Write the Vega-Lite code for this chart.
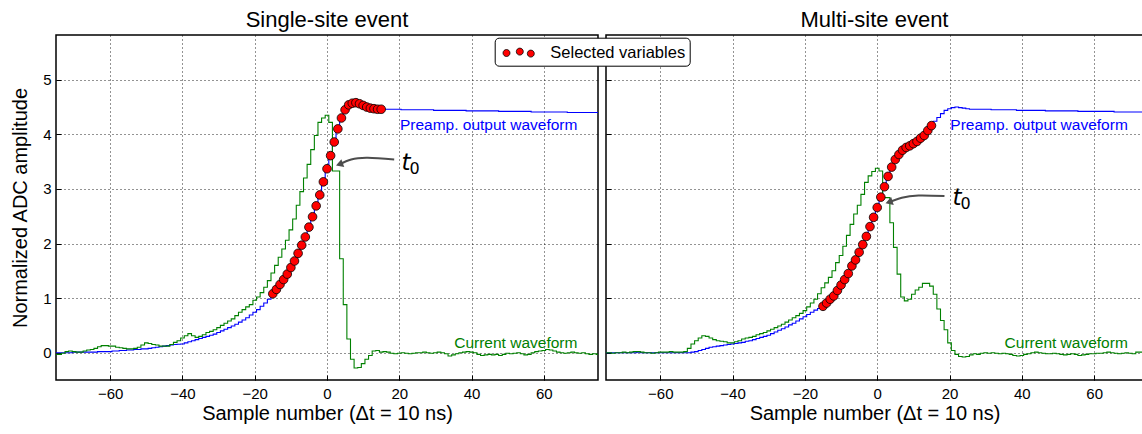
{
  "$schema": "https://vega.github.io/schema/vega-lite/v6.json",
  "background": "white",
  "padding": {"left": 9, "top": 8, "right": 0, "bottom": 0},
  "bounds": "flush",
  "spacing": 8,
  "config": {
    "font": "Liberation Sans",
    "view": {"stroke": "#000", "strokeWidth": 1.5},
    "axis": {
      "grid": true, "gridColor": "#000", "gridDash": [1, 3], "gridOpacity": 0.85, "gridWidth": 1,
      "domain": false, "tickColor": "#000", "tickSize": -5, "tickWidth": 1, "format": "d",
      "labelFont": "Liberation Sans", "labelFontSize": 15, "labelColor": "#000",
      "titleFont": "Liberation Sans", "titleFontSize": 20, "titleFontWeight": "normal", "titleColor": "#000"
    },
    "axisX": {"labelPadding": 11, "titlePadding": 2},
    "axisY": {"labelPadding": 10, "titlePadding": 12},
    "title": {"fontSize": 22, "fontWeight": "normal", "font": "Liberation Sans", "offset": 3, "color": "#000", "anchor": "middle"}
  },
  "resolve": {"scale": {"color": "shared"}, "legend": {"color": "shared"}},
  "datasets": {
    "single": [
      {"x":-75,"p":0.00,"c":-0.03},{"x":-74,"p":0.00,"c":-0.03},{"x":-73,"p":0.00,"c":-0.01},{"x":-72,"p":0.00,"c":0.02},{"x":-71,"p":0.00,"c":0.03},
      {"x":-70,"p":0.01,"c":0.02},{"x":-69,"p":0.01,"c":0.01},{"x":-68,"p":0.01,"c":0.01},{"x":-67,"p":0.01,"c":0.03},{"x":-66,"p":0.01,"c":0.05},
      {"x":-65,"p":0.01,"c":0.06},{"x":-64,"p":0.01,"c":0.08},{"x":-63,"p":0.02,"c":0.11},{"x":-62,"p":0.02,"c":0.13},{"x":-61,"p":0.02,"c":0.13},
      {"x":-60,"p":0.02,"c":0.12},{"x":-59,"p":0.03,"c":0.12},{"x":-58,"p":0.03,"c":0.10},{"x":-57,"p":0.04,"c":0.09},{"x":-56,"p":0.04,"c":0.08},
      {"x":-55,"p":0.05,"c":0.07},{"x":-54,"p":0.05,"c":0.07},{"x":-53,"p":0.06,"c":0.08},{"x":-52,"p":0.06,"c":0.10},{"x":-51,"p":0.07,"c":0.14},
      {"x":-50,"p":0.07,"c":0.18},{"x":-49,"p":0.08,"c":0.17},{"x":-48,"p":0.09,"c":0.15},{"x":-47,"p":0.10,"c":0.14},{"x":-46,"p":0.11,"c":0.12},
      {"x":-45,"p":0.12,"c":0.12},{"x":-44,"p":0.13,"c":0.12},{"x":-43,"p":0.14,"c":0.15},{"x":-42,"p":0.15,"c":0.19},{"x":-41,"p":0.155,"c":0.22},
      {"x":-40,"p":0.16,"c":0.27},{"x":-39,"p":0.18,"c":0.31},{"x":-38,"p":0.20,"c":0.35},{"x":-37,"p":0.22,"c":0.31},{"x":-36,"p":0.24,"c":0.28},
      {"x":-35,"p":0.26,"c":0.30},{"x":-34,"p":0.28,"c":0.33},{"x":-33,"p":0.30,"c":0.37},{"x":-32,"p":0.32,"c":0.39},{"x":-31,"p":0.34,"c":0.42},
      {"x":-30,"p":0.37,"c":0.46},{"x":-29,"p":0.40,"c":0.50},{"x":-28,"p":0.43,"c":0.54},{"x":-27,"p":0.46,"c":0.58},{"x":-26,"p":0.49,"c":0.62},
      {"x":-25,"p":0.52,"c":0.68},{"x":-24,"p":0.56,"c":0.74},{"x":-23,"p":0.60,"c":0.79},{"x":-22,"p":0.64,"c":0.84},{"x":-21,"p":0.69,"c":0.88},
      {"x":-20,"p":0.74,"c":0.96},{"x":-19,"p":0.79,"c":1.02},{"x":-18,"p":0.85,"c":1.10},{"x":-17,"p":0.91,"c":1.20},{"x":-16,"p":0.98,"c":1.32},
      {"x":-15,"p":1.08,"c":1.46},{"x":-14,"p":1.16,"c":1.60},{"x":-13,"p":1.25,"c":1.75},{"x":-12,"p":1.34,"c":1.90},{"x":-11,"p":1.44,"c":2.06},
      {"x":-10,"p":1.56,"c":2.25},{"x":-9,"p":1.68,"c":2.45},{"x":-8,"p":1.82,"c":2.70},{"x":-7,"p":1.97,"c":2.95},{"x":-6,"p":2.12,"c":3.20},
      {"x":-5,"p":2.30,"c":3.45},{"x":-4,"p":2.49,"c":3.72},{"x":-3,"p":2.69,"c":3.98},{"x":-2,"p":2.89,"c":4.22},{"x":-1,"p":3.13,"c":4.30},
      {"x":0,"p":3.37,"c":4.35},{"x":1,"p":3.61,"c":4.22},{"x":2,"p":3.86,"c":3.33},{"x":3,"p":4.10,"c":3.33},{"x":4,"p":4.30,"c":1.72},
      {"x":5,"p":4.45,"c":0.88},{"x":6,"p":4.54,"c":0.25},{"x":7,"p":4.57,"c":-0.12},{"x":8,"p":4.58,"c":-0.28},{"x":9,"p":4.56,"c":-0.27},
      {"x":10,"p":4.53,"c":-0.20},{"x":11,"p":4.50,"c":-0.12},{"x":12,"p":4.48,"c":-0.05},{"x":13,"p":4.47,"c":0.03},{"x":14,"p":4.46,"c":0.04},
      {"x":15,"p":4.46,"c":0.01},{"x":16,"p":4.46,"c":0.02},{"x":17,"p":4.46,"c":0.01},{"x":18,"p":4.46,"c":-0.01},{"x":19,"p":4.46,"c":-0.02},
      {"x":20,"p":4.46,"c":-0.01},{"x":21,"p":4.45,"c":0.00},{"x":22,"p":4.45,"c":-0.01},{"x":23,"p":4.45,"c":-0.02},{"x":24,"p":4.45,"c":-0.01},
      {"x":25,"p":4.45,"c":0.00},{"x":26,"p":4.45,"c":0.00},{"x":27,"p":4.45,"c":0.01},{"x":28,"p":4.45,"c":0.00},{"x":29,"p":4.45,"c":-0.01},
      {"x":30,"p":4.44,"c":0.00},{"x":31,"p":4.44,"c":0.01},{"x":32,"p":4.44,"c":0.00},{"x":33,"p":4.44,"c":-0.02},{"x":34,"p":4.44,"c":-0.06},
      {"x":35,"p":4.44,"c":-0.04},{"x":36,"p":4.44,"c":-0.02},{"x":37,"p":4.44,"c":0.00},{"x":38,"p":4.44,"c":0.01},{"x":39,"p":4.43,"c":0.02},
      {"x":40,"p":4.43,"c":0.01},{"x":41,"p":4.43,"c":0.00},{"x":42,"p":4.43,"c":-0.03},{"x":43,"p":4.43,"c":-0.05},{"x":44,"p":4.43,"c":-0.04},
      {"x":45,"p":4.43,"c":-0.03},{"x":46,"p":4.43,"c":-0.04},{"x":47,"p":4.43,"c":-0.03},{"x":48,"p":4.42,"c":-0.05},{"x":49,"p":4.42,"c":-0.03},
      {"x":50,"p":4.42,"c":-0.01},{"x":51,"p":4.42,"c":-0.02},{"x":52,"p":4.42,"c":-0.01},{"x":53,"p":4.42,"c":0.00},{"x":54,"p":4.42,"c":-0.02},
      {"x":55,"p":4.42,"c":-0.04},{"x":56,"p":4.42,"c":-0.03},{"x":57,"p":4.41,"c":0.00},{"x":58,"p":4.41,"c":0.02},{"x":59,"p":4.41,"c":0.03},
      {"x":60,"p":4.41,"c":0.04},{"x":61,"p":4.41,"c":0.06},{"x":62,"p":4.41,"c":0.05},{"x":63,"p":4.41,"c":0.03},{"x":64,"p":4.41,"c":0.01},
      {"x":65,"p":4.41,"c":0.00},{"x":66,"p":4.41,"c":-0.01},{"x":67,"p":4.40,"c":0.00},{"x":68,"p":4.40,"c":0.01},{"x":69,"p":4.40,"c":0.00},
      {"x":70,"p":4.40,"c":-0.01},{"x":71,"p":4.40,"c":0.00},{"x":72,"p":4.40,"c":-0.02},{"x":73,"p":4.40,"c":-0.03},{"x":74,"p":4.40,"c":-0.02},
      {"x":75,"p":4.40,"c":-0.03}
    ],
    "multi": [
      {"x":-75,"p":0.00,"c":0.00},{"x":-74,"p":0.00,"c":0.00},{"x":-73,"p":0.00,"c":-0.01},{"x":-72,"p":0.00,"c":0.00},{"x":-71,"p":0.00,"c":0.00},
      {"x":-70,"p":0.00,"c":0.01},{"x":-69,"p":0.00,"c":0.00},{"x":-68,"p":0.00,"c":0.01},{"x":-67,"p":0.00,"c":0.02},{"x":-66,"p":0.01,"c":0.02},
      {"x":-65,"p":0.00,"c":0.01},{"x":-64,"p":0.00,"c":0.00},{"x":-63,"p":0.00,"c":0.00},{"x":-62,"p":0.00,"c":-0.01},{"x":-61,"p":0.00,"c":0.00},
      {"x":-60,"p":0.00,"c":0.01},{"x":-59,"p":0.00,"c":0.01},{"x":-58,"p":0.00,"c":0.01},{"x":-57,"p":0.00,"c":0.02},{"x":-56,"p":0.00,"c":0.01},
      {"x":-55,"p":0.00,"c":0.01},{"x":-54,"p":0.00,"c":0.01},{"x":-53,"p":0.00,"c":0.02},{"x":-52,"p":0.00,"c":0.08},{"x":-51,"p":0.01,"c":0.16},
      {"x":-50,"p":0.02,"c":0.22},{"x":-49,"p":0.04,"c":0.27},{"x":-48,"p":0.06,"c":0.31},{"x":-47,"p":0.08,"c":0.30},{"x":-46,"p":0.10,"c":0.27},
      {"x":-45,"p":0.11,"c":0.24},{"x":-44,"p":0.12,"c":0.22},{"x":-43,"p":0.13,"c":0.21},{"x":-42,"p":0.14,"c":0.20},{"x":-41,"p":0.15,"c":0.18},
      {"x":-40,"p":0.16,"c":0.18},{"x":-39,"p":0.17,"c":0.20},{"x":-38,"p":0.18,"c":0.22},{"x":-37,"p":0.19,"c":0.25},{"x":-36,"p":0.21,"c":0.27},
      {"x":-35,"p":0.22,"c":0.28},{"x":-34,"p":0.24,"c":0.30},{"x":-33,"p":0.26,"c":0.33},{"x":-32,"p":0.28,"c":0.35},{"x":-31,"p":0.30,"c":0.37},
      {"x":-30,"p":0.32,"c":0.40},{"x":-29,"p":0.35,"c":0.43},{"x":-28,"p":0.38,"c":0.46},{"x":-27,"p":0.41,"c":0.49},{"x":-26,"p":0.44,"c":0.52},
      {"x":-25,"p":0.47,"c":0.56},{"x":-24,"p":0.51,"c":0.60},{"x":-23,"p":0.54,"c":0.64},{"x":-22,"p":0.58,"c":0.68},{"x":-21,"p":0.62,"c":0.72},
      {"x":-20,"p":0.66,"c":0.77},{"x":-19,"p":0.70,"c":0.84},{"x":-18,"p":0.74,"c":0.91},{"x":-17,"p":0.78,"c":0.98},{"x":-16,"p":0.81,"c":1.08},
      {"x":-15,"p":0.85,"c":1.19},{"x":-14,"p":0.91,"c":1.28},{"x":-13,"p":0.98,"c":1.38},{"x":-12,"p":1.04,"c":1.50},{"x":-11,"p":1.14,"c":1.65},
      {"x":-10,"p":1.24,"c":1.78},{"x":-9,"p":1.34,"c":1.95},{"x":-8,"p":1.45,"c":2.15},{"x":-7,"p":1.59,"c":2.35},{"x":-6,"p":1.70,"c":2.54},
      {"x":-5,"p":1.84,"c":2.70},{"x":-4,"p":1.98,"c":2.90},{"x":-3,"p":2.13,"c":3.12},{"x":-2,"p":2.31,"c":3.24},{"x":-1,"p":2.48,"c":3.32},
      {"x":0,"p":2.66,"c":3.38},{"x":1,"p":2.85,"c":3.33},{"x":2,"p":3.04,"c":2.84},{"x":3,"p":3.23,"c":2.84},{"x":4,"p":3.40,"c":2.38},
      {"x":5,"p":3.54,"c":1.93},{"x":6,"p":3.63,"c":1.44},{"x":7,"p":3.71,"c":1.02},{"x":8,"p":3.76,"c":0.95},{"x":9,"p":3.79,"c":0.98},
      {"x":10,"p":3.83,"c":1.07},{"x":11,"p":3.87,"c":1.15},{"x":12,"p":3.93,"c":1.20},{"x":13,"p":3.98,"c":1.27},{"x":14,"p":4.07,"c":1.27},
      {"x":15,"p":4.16,"c":1.22},{"x":16,"p":4.24,"c":1.07},{"x":17,"p":4.31,"c":0.80},{"x":18,"p":4.38,"c":0.59},{"x":19,"p":4.44,"c":0.42},
      {"x":20,"p":4.47,"c":0.18},{"x":21,"p":4.49,"c":0.04},{"x":22,"p":4.50,"c":-0.03},{"x":23,"p":4.49,"c":-0.07},{"x":24,"p":4.48,"c":-0.08},
      {"x":25,"p":4.47,"c":-0.07},{"x":26,"p":4.46,"c":-0.04},{"x":27,"p":4.46,"c":-0.02},{"x":28,"p":4.46,"c":-0.03},{"x":29,"p":4.46,"c":-0.01},
      {"x":30,"p":4.46,"c":0.00},{"x":31,"p":4.46,"c":-0.01},{"x":32,"p":4.45,"c":0.00},{"x":33,"p":4.45,"c":-0.01},{"x":34,"p":4.45,"c":-0.02},
      {"x":35,"p":4.45,"c":-0.01},{"x":36,"p":4.45,"c":-0.02},{"x":37,"p":4.45,"c":-0.03},{"x":38,"p":4.45,"c":-0.05},{"x":39,"p":4.44,"c":-0.06},
      {"x":40,"p":4.44,"c":-0.05},{"x":41,"p":4.44,"c":-0.03},{"x":42,"p":4.44,"c":-0.02},{"x":43,"p":4.44,"c":0.00},{"x":44,"p":4.44,"c":0.01},
      {"x":45,"p":4.44,"c":0.00},{"x":46,"p":4.44,"c":-0.01},{"x":47,"p":4.43,"c":-0.02},{"x":48,"p":4.43,"c":-0.02},{"x":49,"p":4.43,"c":-0.01},
      {"x":50,"p":4.43,"c":-0.02},{"x":51,"p":4.43,"c":-0.03},{"x":52,"p":4.43,"c":-0.04},{"x":53,"p":4.43,"c":-0.03},{"x":54,"p":4.43,"c":-0.02},
      {"x":55,"p":4.43,"c":-0.03},{"x":56,"p":4.42,"c":-0.05},{"x":57,"p":4.42,"c":-0.04},{"x":58,"p":4.42,"c":-0.03},{"x":59,"p":4.42,"c":-0.02},
      {"x":60,"p":4.42,"c":-0.02},{"x":61,"p":4.42,"c":-0.01},{"x":62,"p":4.42,"c":-0.01},{"x":63,"p":4.42,"c":0.00},{"x":64,"p":4.42,"c":0.01},
      {"x":65,"p":4.42,"c":0.00},{"x":66,"p":4.41,"c":-0.01},{"x":67,"p":4.41,"c":-0.02},{"x":68,"p":4.41,"c":-0.01},{"x":69,"p":4.41,"c":0.00},
      {"x":70,"p":4.41,"c":-0.01},{"x":71,"p":4.41,"c":-0.02},{"x":72,"p":4.41,"c":0.01},{"x":73,"p":4.41,"c":0.01},{"x":74,"p":4.41,"c":0.00},
      {"x":75,"p":4.41,"c":0.00}
    ]
  },
  "hconcat": [
    {
      "width": 542, "height": 345,
      "title": {"text": "Single-site event"},
      "layer": [
        {"data": {"name": "single"}, "mark": {"type": "line", "interpolate": "step", "color": "#0000ff", "strokeWidth": 1.1},
         "encoding": {
           "x": {"field": "x", "type": "quantitative", "scale": {"domain": [-75, 75], "nice": false, "zero": false}, "axis": {"values": [-60, -40, -20, 0, 20, 40, 60], "title": "Sample number (Δt = 10 ns)"}},
           "y": {"field": "p", "type": "quantitative", "scale": {"domain": [-0.5, 5.82], "nice": false, "zero": false}, "axis": {"values": [0, 1, 2, 3, 4, 5], "title": "Normalized ADC amplitude"}}
         }},
        {"data": {"name": "single"}, "mark": {"type": "line", "interpolate": "step", "color": "#008000", "strokeWidth": 1.1},
         "encoding": {"x": {"field": "x", "type": "quantitative"}, "y": {"field": "c", "type": "quantitative"}}},
        {"data": {"name": "single"}, "transform": [{"filter": "datum.x >= -15 && datum.x <= 15"}],
         "mark": {"type": "point", "filled": true, "size": 75, "stroke": "#000", "strokeWidth": 0.8, "opacity": 1},
         "encoding": {"x": {"field": "x", "type": "quantitative"}, "y": {"field": "p", "type": "quantitative"},
           "color": {"datum": "Selected variables", "type": "nominal", "scale": {"domain": ["Selected variables"], "range": ["#ff0000"]},
             "legend": {"orient": "none", "legendX": 438.7, "legendY": 2.7, "title": null,
               "symbolType": "M-0.638,0.03 a0.333,0.333 0 1,0 0.666,0 a0.333,0.333 0 1,0 -0.666,0 Z M0.629,-0.105 a0.333,0.333 0 1,0 0.666,0 a0.333,0.333 0 1,0 -0.666,0 Z M1.677,0.086 a0.333,0.333 0 1,0 0.666,0 a0.333,0.333 0 1,0 -0.666,0 Z",
               "symbolSize": 441, "symbolStrokeColor": "#000", "symbolStrokeWidth": 0.8,
               "labelFontSize": 16.5, "labelFont": "Liberation Sans", "labelColor": "#000", "labelOffset": 29.6,
               "padding": 4, "strokeColor": "#000", "fillColor": "#fff", "cornerRadius": 4}}}},
        {"data": {"values": [{"x": 69.3, "y": 4.17, "label": "Preamp. output waveform"}]},
         "mark": {"type": "text", "align": "right", "baseline": "middle", "color": "#0000ff", "fontSize": 15.5, "font": "Liberation Sans"},
         "encoding": {"x": {"field": "x", "type": "quantitative"}, "y": {"field": "y", "type": "quantitative"}, "text": {"field": "label"}}},
        {"data": {"values": [{"x": 69.3, "y": 0.18, "label": "Current waveform"}]},
         "mark": {"type": "text", "align": "right", "baseline": "middle", "color": "#008000", "fontSize": 15.5, "font": "Liberation Sans"},
         "encoding": {"x": {"field": "x", "type": "quantitative"}, "y": {"field": "y", "type": "quantitative"}, "text": {"field": "label"}}},
        {"data": {"values": [{"x": 18.6, "y": 3.54}, {"x": 11.3, "y": 3.57}, {"x": 6.7, "y": 3.54}, {"x": 3.43, "y": 3.45}]},
         "mark": {"type": "line", "interpolate": "natural", "color": "#4d4d4d", "strokeWidth": 2},
         "encoding": {"x": {"field": "x", "type": "quantitative"}, "y": {"field": "y", "type": "quantitative"}}},
        {"data": {"values": [{"x": 3.43, "y": 3.45}]},
         "mark": {"type": "point", "shape": "triangle-left", "filled": true, "size": 70, "color": "#4d4d4d", "opacity": 1, "angle": -20},
         "encoding": {"x": {"field": "x", "type": "quantitative"}, "y": {"field": "y", "type": "quantitative"}}},
        {"data": {"values": [{"x": 20.6, "y": 3.35, "label": "t"}]},
         "mark": {"type": "text", "align": "left", "baseline": "alphabetic", "color": "#000", "fontSize": 23, "font": "DejaVu Sans", "fontStyle": "italic"},
         "encoding": {"x": {"field": "x", "type": "quantitative"}, "y": {"field": "y", "type": "quantitative"}, "text": {"field": "label"}}},
        {"data": {"values": [{"x": 20.6, "y": 3.35, "label": "0"}]},
         "mark": {"type": "text", "align": "left", "baseline": "alphabetic", "color": "#000", "fontSize": 16, "font": "DejaVu Sans", "dx": 8, "dy": 4},
         "encoding": {"x": {"field": "x", "type": "quantitative"}, "y": {"field": "y", "type": "quantitative"}, "text": {"field": "label"}}}
      ]
    },
    {
      "width": 537, "height": 345,
      "title": {"text": "Multi-site event"},
      "layer": [
        {"data": {"name": "multi"}, "mark": {"type": "line", "interpolate": "step", "color": "#0000ff", "strokeWidth": 1.1, "clip": true},
         "encoding": {
           "x": {"field": "x", "type": "quantitative", "scale": {"domain": [-75, 73.5], "nice": false, "zero": false}, "axis": {"values": [-60, -40, -20, 0, 20, 40, 60], "title": "Sample number (Δt = 10 ns)"}},
           "y": {"field": "p", "type": "quantitative", "scale": {"domain": [-0.5, 5.82], "nice": false, "zero": false}, "axis": {"values": [0, 1, 2, 3, 4, 5], "labels": false, "title": null}}
         }},
        {"data": {"name": "multi"}, "mark": {"type": "line", "interpolate": "step", "color": "#008000", "strokeWidth": 1.1, "clip": true},
         "encoding": {"x": {"field": "x", "type": "quantitative"}, "y": {"field": "c", "type": "quantitative"}}},
        {"data": {"name": "multi"}, "transform": [{"filter": "datum.x >= -15 && datum.x <= 15"}],
         "mark": {"type": "point", "filled": true, "size": 75, "stroke": "#000", "strokeWidth": 0.8, "opacity": 1},
         "encoding": {"x": {"field": "x", "type": "quantitative"}, "y": {"field": "p", "type": "quantitative"},
           "color": {"datum": "Selected variables", "type": "nominal", "scale": {"domain": ["Selected variables"], "range": ["#ff0000"]},
             "legend": {"orient": "none", "legendX": 438.7, "legendY": 2.7, "title": null,
               "symbolType": "M-0.638,0.03 a0.333,0.333 0 1,0 0.666,0 a0.333,0.333 0 1,0 -0.666,0 Z M0.629,-0.105 a0.333,0.333 0 1,0 0.666,0 a0.333,0.333 0 1,0 -0.666,0 Z M1.677,0.086 a0.333,0.333 0 1,0 0.666,0 a0.333,0.333 0 1,0 -0.666,0 Z",
               "symbolSize": 441, "symbolStrokeColor": "#000", "symbolStrokeWidth": 0.8,
               "labelFontSize": 16.5, "labelFont": "Liberation Sans", "labelColor": "#000", "labelOffset": 29.6,
               "padding": 4, "strokeColor": "#000", "fillColor": "#fff", "cornerRadius": 4}}}},
        {"data": {"values": [{"x": 69.3, "y": 4.17, "label": "Preamp. output waveform"}]},
         "mark": {"type": "text", "align": "right", "baseline": "middle", "color": "#0000ff", "fontSize": 15.5, "font": "Liberation Sans"},
         "encoding": {"x": {"field": "x", "type": "quantitative"}, "y": {"field": "y", "type": "quantitative"}, "text": {"field": "label"}}},
        {"data": {"values": [{"x": 69.3, "y": 0.18, "label": "Current waveform"}]},
         "mark": {"type": "text", "align": "right", "baseline": "middle", "color": "#008000", "fontSize": 15.5, "font": "Liberation Sans"},
         "encoding": {"x": {"field": "x", "type": "quantitative"}, "y": {"field": "y", "type": "quantitative"}, "text": {"field": "label"}}},
        {"data": {"values": [{"x": 18.6, "y": 2.87}, {"x": 11.4, "y": 2.88}, {"x": 6.8, "y": 2.84}, {"x": 3.26, "y": 2.76}]},
         "mark": {"type": "line", "interpolate": "natural", "color": "#4d4d4d", "strokeWidth": 2},
         "encoding": {"x": {"field": "x", "type": "quantitative"}, "y": {"field": "y", "type": "quantitative"}}},
        {"data": {"values": [{"x": 3.26, "y": 2.76}]},
         "mark": {"type": "point", "shape": "triangle-left", "filled": true, "size": 70, "color": "#4d4d4d", "opacity": 1, "angle": -18},
         "encoding": {"x": {"field": "x", "type": "quantitative"}, "y": {"field": "y", "type": "quantitative"}}},
        {"data": {"values": [{"x": 20.8, "y": 2.71, "label": "t"}]},
         "mark": {"type": "text", "align": "left", "baseline": "alphabetic", "color": "#000", "fontSize": 23, "font": "DejaVu Sans", "fontStyle": "italic"},
         "encoding": {"x": {"field": "x", "type": "quantitative"}, "y": {"field": "y", "type": "quantitative"}, "text": {"field": "label"}}},
        {"data": {"values": [{"x": 20.8, "y": 2.71, "label": "0"}]},
         "mark": {"type": "text", "align": "left", "baseline": "alphabetic", "color": "#000", "fontSize": 16, "font": "DejaVu Sans", "dx": 8, "dy": 4},
         "encoding": {"x": {"field": "x", "type": "quantitative"}, "y": {"field": "y", "type": "quantitative"}, "text": {"field": "label"}}}
      ]
    }
  ]
}
